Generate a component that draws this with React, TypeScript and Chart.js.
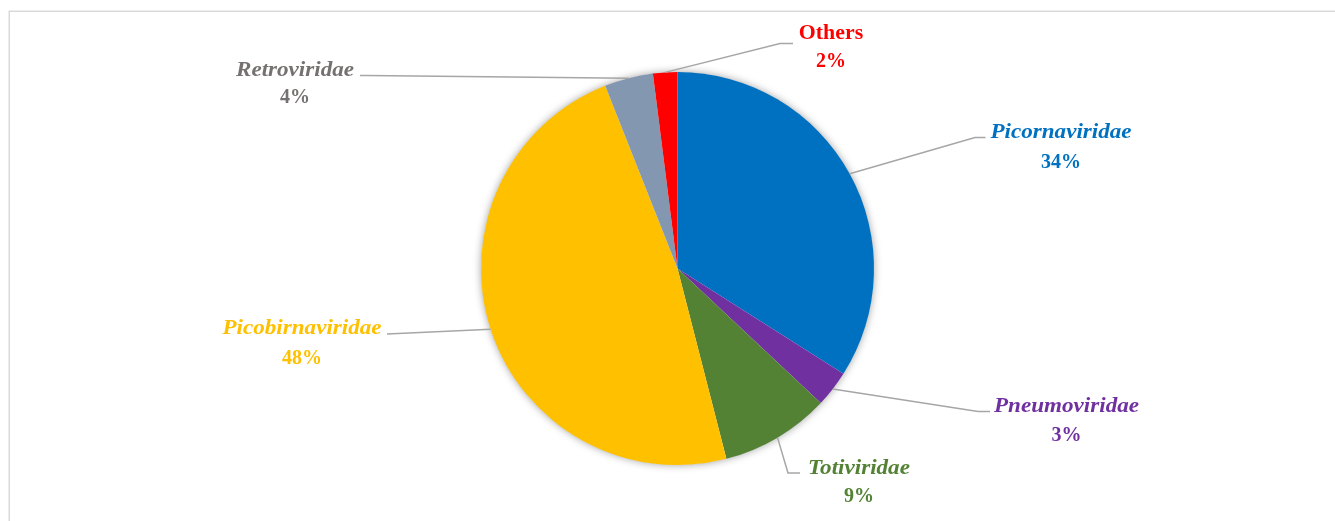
import React, { useEffect, useRef } from "react";
import { Chart, registerables } from "chart.js";

Chart.register(...registerables);

const categories = ["Picornaviridae", "Pneumoviridae", "Totiviridae", "Picobirnaviridae", "Retroviridae", "Others"];
const percentages = [34, 3, 9, 48, 4, 2];
const sliceColors = ["#0070C0", "#7030A0", "#548235", "#FFC000", "#8497B0", "#FF0000"];
const labelColors = ["#0070C0", "#7030A0", "#548235", "#FFC000", "#767171", "#FF0000"];
const italicNames = [true, true, true, true, true, false];

// label layout (text centre x, name baseline, percent baseline, elbow point, line end point)
const labelLayout = [
  { cx: 1061, nameY: 138, pctY: 167.5, elbow: [975, 137.5], end: [985.5, 137.5] },
  { cx: 1066.5, nameY: 412, pctY: 440.5, elbow: [978, 411.5], end: [990, 411.5] },
  { cx: 859, nameY: 474, pctY: 501.5, elbow: [788, 473], end: [800, 473] },
  { cx: 302, nameY: 334, pctY: 363.5, elbow: [387, 334], end: [387, 334] },
  { cx: 295, nameY: 76, pctY: 103, elbow: [367, 75.5], end: [360, 75.5] },
  { cx: 831, nameY: 39, pctY: 66.5, elbow: [780, 43.5], end: [793, 43.5] },
];

function drawScaledText(ctx: any, text: string, x: number, y: number, sx: number) {
  ctx.save();
  ctx.translate(x, y);
  ctx.scale(sx, 1);
  ctx.fillText(text, 0, 0);
  ctx.restore();
}

const decorPlugin = {
  id: "decor",
  beforeDraw(chart: any) {
    const ctx = chart.ctx;
    ctx.save();
    ctx.fillStyle = "#ffffff";
    ctx.fillRect(0, 0, chart.width, chart.height);
    ctx.strokeStyle = "#D9D9D9";
    ctx.lineWidth = 1.5;
    ctx.strokeRect(9.25, 11.25, chart.width + 20, chart.height + 20);
    ctx.restore();
  },
  beforeDatasetsDraw(chart: any) {
    const meta = chart.getDatasetMeta(0);
    const arc = meta.data[0];
    if (!arc) return;
    const ctx = chart.ctx;
    ctx.save();
    ctx.beginPath();
    ctx.arc(arc.x, arc.y, arc.outerRadius - 0.5, 0, Math.PI * 2);
    ctx.shadowColor = "rgba(0,0,0,0.4)";
    ctx.shadowBlur = 8;
    ctx.fillStyle = "#ffffff";
    ctx.fill();
    ctx.restore();
  },
  afterDatasetsDraw(chart: any) {
    const meta = chart.getDatasetMeta(0);
    const ctx = chart.ctx;
    ctx.save();
    meta.data.forEach((arc: any, i: number) => {
      const L = labelLayout[i];
      const mid = (arc.startAngle + arc.endAngle) / 2;
      const sx = arc.x + Math.cos(mid) * arc.outerRadius;
      const sy = arc.y + Math.sin(mid) * arc.outerRadius;
      ctx.beginPath();
      ctx.strokeStyle = "#A6A6A6";
      ctx.lineWidth = 1.5;
      ctx.moveTo(sx, sy);
      ctx.lineTo(L.elbow[0], L.elbow[1]);
      ctx.lineTo(L.end[0], L.end[1]);
      ctx.stroke();

      ctx.fillStyle = labelColors[i];
      ctx.textAlign = "center";
      ctx.textBaseline = "alphabetic";
      ctx.font = (italicNames[i] ? "italic " : "") + "bold 21px 'Liberation Serif'";
      drawScaledText(ctx, categories[i], L.cx, L.nameY, italicNames[i] ? 1.1 : 1.04);
      ctx.font = "bold 20px 'Liberation Serif'";
      drawScaledText(ctx, percentages[i] + "%", L.cx, L.pctY, 1.0);
    });
    ctx.restore();
  },
};

export default function App() {
  const ref = useRef<HTMLCanvasElement | null>(null);
  useEffect(() => {
    document.body.style.margin = "0";
    if (!ref.current) return;
    const chart = new Chart(ref.current, {
      type: "pie",
      data: {
        labels: categories,
        datasets: [
          {
            data: percentages,
            backgroundColor: sliceColors,
            borderWidth: 0,
          },
        ],
      },
      options: {
        responsive: false,
        animation: false,
        layout: { padding: { left: 481, right: 461, top: 72, bottom: 56 } },
        plugins: {
          legend: { display: false },
          tooltip: { enabled: false },
          title: { display: false },
        },
      },
      plugins: [decorPlugin],
    });
    return () => chart.destroy();
  }, []);
  return (
    <div style={{ width: 1335, height: 521 }}>
      <canvas ref={ref} width={1335} height={521} style={{ display: "block" }} />
    </div>
  );
}
